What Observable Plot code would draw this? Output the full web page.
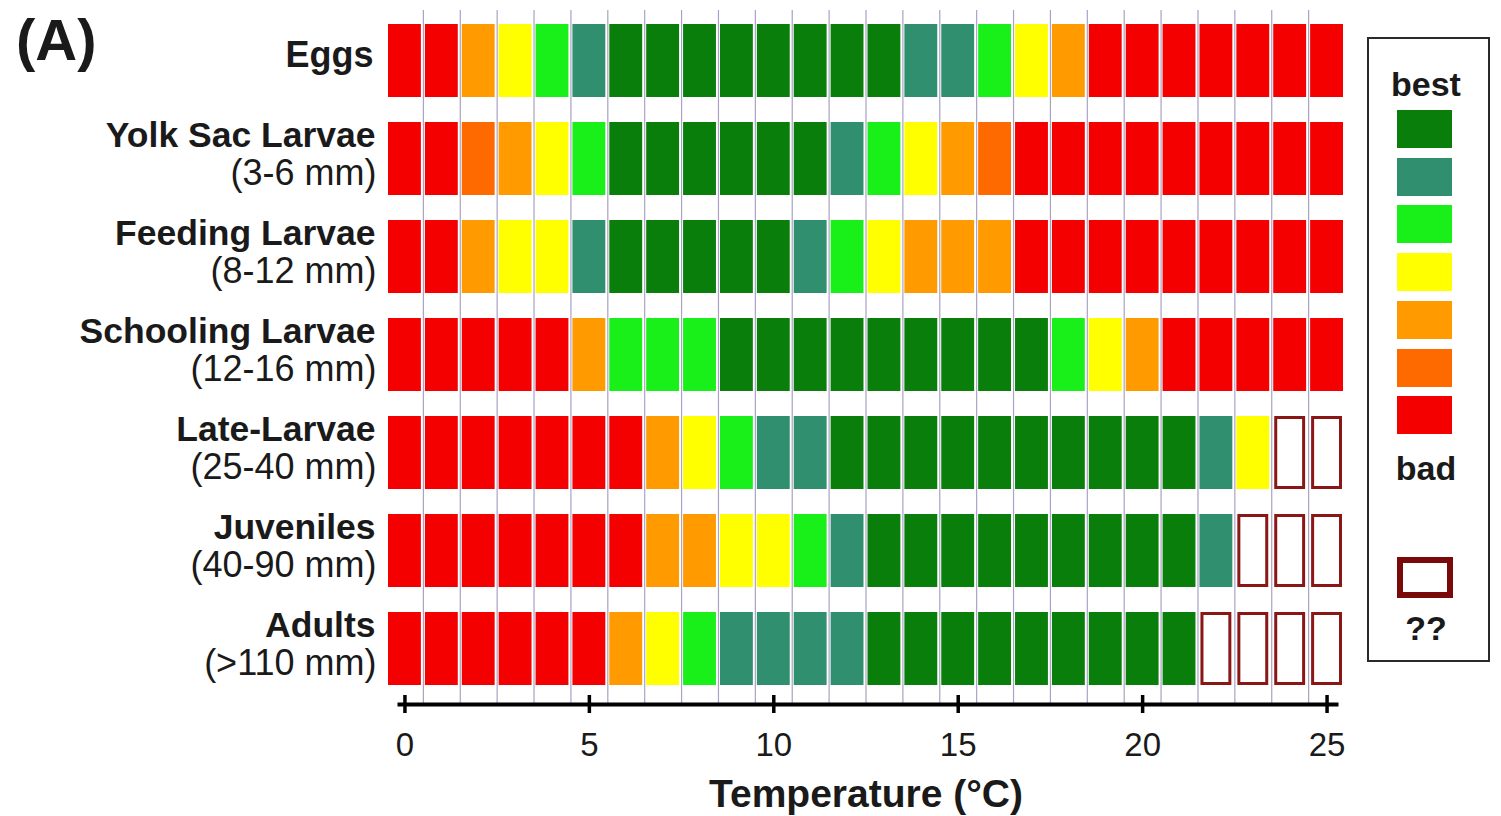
<!DOCTYPE html>
<html><head><meta charset="utf-8">
<script src="https://cdn.jsdelivr.net/npm/d3@7"></script>
<script src="https://cdn.jsdelivr.net/npm/@observablehq/plot@0.6"></script>
<style>
body{margin:0;background:#fff;font-family:"Liberation Sans",Arial,Helvetica,sans-serif;}
#wrap{position:relative;width:1501px;height:816px;overflow:hidden;background:#fff;}
.abs{position:absolute;}
.lt{font-weight:bold;font-size:34px;line-height:34px;text-align:center;color:#1a1a1a;}
</style></head><body><div id="wrap"></div>
<script>
// ---- data ----
const panelTag = "(A)";
const stages = ["Eggs", "Yolk Sac Larvae", "Feeding Larvae", "Schooling Larvae", "Late-Larvae", "Juveniles", "Adults"];
const stageSizes = ["", "(3-6 mm)", "(8-12 mm)", "(12-16 mm)", "(25-40 mm)", "(40-90 mm)", "(>110 mm)"];
const temperatures = [0,1,2,3,4,5,6,7,8,9,10,11,12,13,14,15,16,17,18,19,20,21,22,23,24,25];
const xTicks = [0, 5, 10, 15, 20, 25];
const xTitle = "Temperature (°C)";
// rating codes: 1 = best ... 7 = bad, 0 = unknown (??)
const levelCodes = [1, 2, 3, 4, 5, 6, 7];
const levelColors = ["#0a7e0a", "#2f8f6e", "#19f019", "#ffff00", "#ff9a00", "#ff6a00", "#f40000"];
const legendTop = "best";
const legendBottom = "bad";
const unknownLabel = "??";
const unknownCode = 0;
const eggs      = [7,7,5,4,3,2,1,1,1,1,1,1,1,1,2,2,3,4,5,7,7,7,7,7,7,7];
const yolkSac   = [7,7,6,5,4,3,1,1,1,1,1,1,2,3,4,5,6,7,7,7,7,7,7,7,7,7];
const feeding   = [7,7,5,4,4,2,1,1,1,1,1,2,3,4,5,5,5,7,7,7,7,7,7,7,7,7];
const schooling = [7,7,7,7,7,5,3,3,3,1,1,1,1,1,1,1,1,1,3,4,5,7,7,7,7,7];
const lateLarvae= [7,7,7,7,7,7,7,5,4,3,2,2,1,1,1,1,1,1,1,1,1,1,2,4,0,0];
const juveniles = [7,7,7,7,7,7,7,5,5,4,4,3,2,1,1,1,1,1,1,1,1,1,2,0,0,0];
const adults    = [7,7,7,7,7,7,5,4,3,2,2,2,2,1,1,1,1,1,1,1,1,1,0,0,0,0];

// ---- build table ----
const ratings = [eggs, yolkSac, feeding, schooling, lateLarvae, juveniles, adults];
const cells = stages.flatMap((s, i) => ratings[i].map((r, k) => ({stage: s, t: temperatures[k], r})));
const known = cells.filter(d => d.r !== unknownCode);
const unknown = cells.filter(d => d.r === unknownCode);
const boundaries = temperatures.slice(0, -1).map(t => t + 0.5);
const stageRows = stages.map((s, i) => ({stage: s, size: stageSizes[i]}));
const singleLine = stageRows.filter(d => !d.size);
const doubleLine = stageRows.filter(d => d.size);

const W = 1501, H = 816, mTop = 10, mBottom = 112;
const frameH = H - mTop - mBottom;
const font = "Liberation Sans, Arial, sans-serif";

const chart = Plot.plot({
  width: W, height: H,
  marginLeft: 386, marginRight: 156, marginTop: mTop, marginBottom: mBottom,
  style: {fontFamily: font, background: "white", overflow: "visible", color: "#1a1a1a"},
  x: {domain: [-0.5, 25.5]},
  y: {type: "band", domain: stages, paddingInner: 0.256, paddingOuter: 0.1626, align: 0.41, axis: null},
  color: {type: "ordinal", domain: levelCodes, range: levelColors},
  marks: [
    Plot.ruleX(boundaries, {x: d => d, stroke: "#aaa2c4", strokeWidth: 1.2}),
    Plot.barX(known, {x1: d => d.t - 0.5, x2: d => d.t + 0.5, y: "stage", fill: "r", insetLeft: 2, insetRight: 2}),
    Plot.barX(unknown, {x1: d => d.t - 0.5, x2: d => d.t + 0.5, y: "stage", fill: "white", stroke: "#8b1616", strokeWidth: 3, insetLeft: 4.5, insetRight: 4.5, insetTop: 1.5, insetBottom: 1.5}),
    Plot.text(singleLine, {y: "stage", text: "stage", frameAnchor: "left", textAnchor: "end", lineAnchor: "middle", dx: -13, dy: -6, fontSize: 36, fontWeight: "bold", fill: "#1a1a1a"}),
    Plot.text(doubleLine, {y: "stage", text: "stage", frameAnchor: "left", textAnchor: "end", lineAnchor: "middle", dx: -11, dy: -23, fontSize: 35.5, fontWeight: "bold", fill: "#1a1a1a"}),
    Plot.text(doubleLine, {y: "stage", text: "size", frameAnchor: "left", textAnchor: "end", lineAnchor: "middle", dx: -10, dy: 14, fontSize: 36, fill: "#1a1a1a"}),
    Plot.frame({anchor: "bottom", stroke: "black", strokeWidth: 4, insetLeft: 13, insetRight: 9}),
    Plot.ruleX(xTicks, {x: d => d, stroke: "black", strokeWidth: 3.5, insetTop: frameH - 9, insetBottom: -9}),
    Plot.axisX(xTicks, {tickSize: 0, tickPadding: 28, fontSize: 33, label: null, fill: "#1a1a1a"}),
    Plot.text([xTitle], {text: d => d, frameAnchor: "bottom", lineAnchor: "middle", dy: 90, fontSize: 39, fontWeight: "bold", fill: "#1a1a1a"})
  ]
});

const wrap = document.getElementById("wrap");
wrap.appendChild(chart);

// ---- panel tag ----
const tag = document.createElement("div");
tag.className = "abs";
tag.style.cssText = "left:16px;top:11px;font-weight:bold;font-size:58px;line-height:58px;color:#1a1a1a;";
tag.textContent = panelTag;
wrap.appendChild(tag);

// ---- legend ----
const box = document.createElement("div");
box.className = "abs";
box.style.cssText = "left:1367px;top:37px;width:123px;height:625px;box-sizing:border-box;border:2px solid #2a2a2a;background:#fff;";
wrap.appendChild(box);
function addText(txt, top) {
  const el = document.createElement("div");
  el.className = "abs lt";
  el.style.left = "1367px"; el.style.width = "118px"; el.style.top = top + "px";
  el.textContent = txt;
  wrap.appendChild(el);
}
addText(legendTop, 67);
levelColors.forEach((c, i) => {
  const sw = document.createElement("div");
  sw.className = "abs";
  sw.style.cssText = `left:1397px;top:${110 + i * 47.7}px;width:55px;height:38px;background:${c};`;
  wrap.appendChild(sw);
});
addText(legendBottom, 451);
const uk = document.createElement("div");
uk.className = "abs";
uk.style.cssText = "left:1397px;top:557px;width:56px;height:41px;box-sizing:border-box;border:6px solid #7a0a0a;background:#fff;";
wrap.appendChild(uk);
addText(unknownLabel, 611);
</script>
</body></html>
